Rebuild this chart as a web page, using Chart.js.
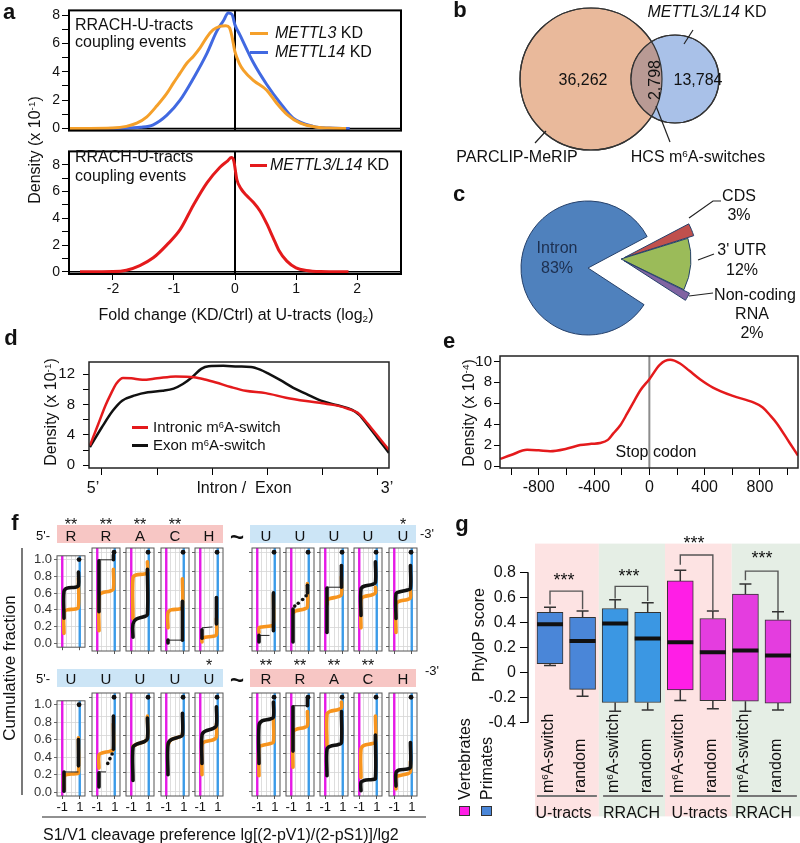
<!DOCTYPE html>
<html>
<head>
<meta charset="utf-8">
<script src="https://cdn.jsdelivr.net/npm/chart.js@4.4.1/dist/chart.umd.min.js"></script>
<style>
html,body{margin:0;padding:0;background:#fff;}
#root{position:relative;width:800px;height:843px;overflow:hidden;font-family:"Liberation Sans",Arial,Helvetica,sans-serif;color:#111;background:#fff;}
#root canvas{position:absolute;}
.t{position:absolute;white-space:nowrap;line-height:1.15;}
.bx{position:absolute;box-sizing:border-box;}
sup{font-size:0.62em;vertical-align:0.5em;line-height:0;}
sub{font-size:0.62em;vertical-align:-0.25em;line-height:0;}
</style>
</head>
<body>
<div id="root"></div>
<script>
// ====================== DATA ======================
// panel a : density of fold change at U-tracts
const aMettl3 = [[-2.72,0],[-2.0,0.04],[-1.78,0.15],[-1.61,0.37],[-1.45,0.8],[-1.28,1.6],[-1.12,2.46],[-1.01,3.2],[-0.9,3.9],[-0.79,4.6],[-0.68,5.1],[-0.57,5.7],[-0.46,6.45],[-0.36,6.95],[-0.25,7.2],[-0.15,7.25],[-0.09,7.1],[-0.05,6.5],[0,5.4],[0.07,4.6],[0.14,4.1],[0.3,3.4],[0.52,2.7],[0.68,1.8],[0.85,1.0],[1.07,0.37],[1.34,0.09],[1.6,0.02],[1.82,0]];
const aMettl14 = [[-2.72,0],[-1.8,0.02],[-1.55,0.08],[-1.34,0.26],[-1.12,0.92],[-0.9,2.0],[-0.68,3.55],[-0.46,5.3],[-0.3,6.85],[-0.19,7.6],[-0.11,8.15],[-0.05,8.05],[0,7.3],[0.08,6.6],[0.3,4.65],[0.52,3.1],[0.74,1.8],[0.96,0.7],[1.28,0.15],[1.55,0.03],[1.88,0]];
const aMettl3L14 = [[-2.54,0],[-2.0,0.02],[-1.78,0.12],[-1.56,0.47],[-1.34,1.05],[-1.12,2.0],[-0.9,3.15],[-0.68,5.0],[-0.46,6.65],[-0.25,7.8],[-0.12,8.3],[-0.06,8.55],[-0.02,8.3],[0.03,6.9],[0.1,6.2],[0.19,5.7],[0.3,5.2],[0.41,4.55],[0.52,3.6],[0.62,2.6],[0.72,1.6],[0.85,0.8],[1.0,0.3],[1.17,0.1],[1.4,0.02],[1.86,0]];
const aTicksX = [-2,-1,0,1,2];
const aTicksY = [0,1,2,3,4,5,6,7,8];

// panel b : Venn counts
const vennCounts = [36262, 2798, 13784];

// panel c : pie
const pieLabels = ['CDS', "3' UTR", 'Non-coding RNA', 'Intron'];
const pieValues = [3, 12, 2, 83];

// panel d : metagene density (x: position along intron/exon)
const dIntronic = [[-0.65,2.6],[-0.2,5.4],[0.2,7.9],[0.45,9.2],[0.8,10.8],[1.15,11.5],[1.6,11.45],[2.2,11.25],[3.0,11.45],[4.0,11.7],[5.0,11.6],[5.6,11.3],[6.2,10.9],[7.0,10.3],[7.8,9.8],[8.9,9.5],[10.0,8.9],[11.1,8.45],[12.0,8.15],[12.8,7.85],[13.4,7.4],[13.9,6.9],[14.4,5.6],[14.9,4.1],[15.6,2.0]];
const dExon = [[-0.65,2.4],[0,5.0],[0.6,7.2],[1.1,8.5],[1.8,9.2],[2.5,9.6],[3.3,9.8],[3.9,10.1],[4.4,10.7],[4.9,11.6],[5.4,12.7],[5.8,13.05],[6.6,13.1],[7.4,13.0],[8.1,12.95],[8.6,12.6],[9.1,12.0],[9.7,11.2],[10.4,10.2],[11.1,9.4],[11.9,8.5],[12.8,7.9],[13.6,7.3],[14.0,6.6],[14.4,5.4],[15.0,3.5],[15.6,1.6]];
const dTicksX = [0,3,6,9,12,15];
const dTicksY = [0,2,4,6,8,10,12];

// panel e : density around stop codon
const eStop = [[-1078,0.68],[-1000,1.05],[-884,1.55],[-800,1.5],[-717,1.42],[-600,1.65],[-500,2.0],[-420,2.12],[-356,2.2],[-300,2.5],[-262,3.1],[-210,3.9],[-161,5.0],[-110,6.2],[-67,7.2],[0,8.3],[77,9.7],[150,10.15],[222,9.8],[290,9.1],[366,8.3],[460,7.5],[604,6.7],[748,6.1],[820,5.6],[870,4.9],[921,4.1],[1015,2.2],[1075,1.0]];
const eTicksX = [-1000,-800,-600,-400,-200,0,200,400,600,800,1000];
const eTicksY = [0,2,4,6,8,10];

// panel f : cumulative fractions (orange / black) per nucleotide
const fMotifTop = ['R','R','A','C','H','U','U','U','U','U'];
const fMotifBot = ['U','U','U','U','U','R','R','A','C','H'];
const fStarsTop = ['**','**','**','**','','','','','','*'];
const fStarsBot = ['','','','','*','**','**','**','**',''];
const fTicksY = [0,0.2,0.4,0.6,0.8,1.0];
const fTicksX = [-1,-0.5,0,0.5,1];
const fOrange = [
 [[-.8,.12],[-.8,.37],[-.45,.40],[.5,.41],[.85,.43],[.85,.78]],
 [[-.8,.17],[-.8,.54],[-.45,.57],[.5,.59],[.85,.61],[.85,.82]],
 [[-.8,.30],[-.8,.73],[-.45,.76],[.5,.77],[.85,.79],[.85,.90]],
 [[-.8,.20],[-.8,.36],[-.45,.39],[.5,.40],[.85,.42],[.85,.72]],
 [[-.8,.05],[-.8,.08],[-.45,.10],[.5,.11],[.85,.13],[.85,.30]],
 [[-.8,.15],[-.8,.20],[-.45,.21],[.5,.22],[.85,.23],[.85,.55]],
 [[-.8,.36],[-.45,.38],[.5,.40],[.85,.42],[.85,.67]],
 [[-.8,.45],[-.8,.49],[-.45,.51],[.5,.53],[.85,.55],[.85,.74]],
 [[-.8,.20],[-.8,.50],[-.45,.53],[.5,.55],[.85,.57],[.85,.63]],
 [[-.8,.15],[-.8,.45],[-.45,.48],[.5,.50],[.85,.52],[.85,.60]],
 [[-.8,.03],[-.8,.18],[-.45,.20],[.5,.21],[.85,.22],[.85,.62]],
 [[-.8,.25],[-.8,.39],[-.45,.41],[.5,.43],[.85,.45],[.85,.72]],
 [[-.8,.48],[-.45,.50],[.5,.53],[.85,.56],[.85,.80]],
 [[-.8,.50],[-.45,.55],[.5,.58],[.85,.60],[.85,.62]],
 [[-.8,.18],[-.8,.50],[-.45,.53],[.5,.55],[.85,.58],[.85,.72]],
 [[-.8,.17],[-.8,.47],[-.45,.49],[.5,.51],[.85,.53],[.85,.78]],
 [[-.8,.26],[-.8,.63],[-.45,.66],[.5,.68],[.85,.70],[.85,.85]],
 [[-.8,.49],[-.8,.82],[-.45,.85],[.5,.87],[.85,.89],[.85,.95]],
 [[-.8,.15],[-.8,.45],[-.45,.49],[.5,.51],[.85,.53],[.85,.80]],
 [[-.8,.03],[-.8,.15],[-.45,.17],[.5,.19],[.85,.21],[.85,.32]]
];
const fBlack = [
 [[[-.8,.30],[-.8,.62],[-.45,.66],[.5,.67],[.85,.69],[.85,.85]]],
 [[[-.8,.37],[-.8,.91]],[[.85,.92],[.85,.97]]],
 [[[-.8,.10],[-.8,.24],[-.45,.29],[.5,.32],[.85,.34],[.85,.82]]],
 [[[-.8,.04],[-.8,.07]],[[.85,.07],[.85,.48]]],
 [[[-.8,.09],[-.8,.18]],[[.85,.24],[.85,.52]]],
 [[[-.8,.05],[-.8,.12]],[[.85,.17],[.85,.57]]],
 [[[-.8,.05],[-.8,.40]],[[.85,.57],[.85,.65]]],
 [[[-.8,.15],[-.8,.62]],[[.85,.63],[.85,.86]]],
 [[[-.8,.33],[-.8,.61],[-.45,.64],[.5,.66],[.85,.68],[.85,.90]]],
 [[[-.8,.30],[-.8,.56],[-.45,.58],[.5,.60],[.85,.62],[.85,.86]]],
 [[[-.8,.01],[-.8,.23]],[[.85,.30],[.85,.60]]],
 [[[-.8,.05],[-.8,.20]],[[.85,.45],[.85,.80]]],
 [[[-.8,.12],[-.8,.47],[-.45,.50],[.5,.53],[.85,.56],[.85,.78]]],
 [[[-.8,.18],[-.8,.50],[-.45,.55],[.5,.58],[.85,.60],[.85,.83]]],
 [[[-.8,.30],[-.8,.60],[-.45,.64],[.5,.67],[.85,.70],[.85,.90]]],
 [[[-.8,.30],[-.8,.70],[-.45,.75],[.5,.77],[.85,.79],[.85,.95]]],
 [[[-.8,.43],[-.8,.90]],[[.85,.91],[.85,1.0]]],
 [[[-.8,.17],[-.8,.45],[-.45,.48],[.5,.50],[.85,.52],[.85,.85]]],
 [[[-.8,.01],[-.8,.10],[-.45,.12],[.5,.13],[.85,.14],[.85,.60]]],
 [[[-.8,.06],[-.8,.20],[-.45,.23],[.5,.24],[.85,.26],[.85,.52]]]
];
const fThin = [
 [],[[[-.8,.92],[.85,.92]]],[],[[[-.8,.07],[.85,.07]]],[[[-.8,.20],[.4,.21]]],
 [[[-.8,.12],[.4,.12]]],[],[[[-.8,.63],[.85,.63]]],[],[],
 [[[-.8,.23],[.85,.23]]],[[[-.8,.21],[0,.21]]],[],[],[],
 [],[[[-.8,.91],[.85,.91]]],[],[],[]
];
const fDots = [
 [],[],[],[],[],
 [],[[-.6,.43],[-.2,.46],[.3,.50],[.7,.54]],[],[],[],
 [],[[.2,.30],[.45,.35],[.7,.40]],[],[],[],
 [],[],[],[],[]
];
const fEnd = [0.92, 1.0];

// panel g : PhyloP boxplots
const gLabels = ['m6A-switch','random','m6A-switch','random','m6A-switch','random','m6A-switch','random'];
const gGroups = ['U-tracts','RRACH','U-tracts','RRACH'];
const gSpecies = ['Primates','Primates','Primates','Primates','Vertebrates','Vertebrates','Vertebrates','Vertebrates'];
const gQ1  = [0.07, -0.135, -0.24, -0.24, -0.14, -0.225, -0.23, -0.245];
const gQ3  = [0.48, 0.44, 0.51, 0.48, 0.73, 0.43, 0.625, 0.42];
const gMed = [0.385, 0.25, 0.39, 0.27, 0.24, 0.16, 0.175, 0.135];
const gHi  = [0.52, 0.49, 0.58, 0.555, 0.815, 0.49, 0.705, 0.485];
const gLo  = [0.055, -0.19, -0.31, -0.30, -0.225, -0.29, -0.31, -0.30];
const gStars = ['***','***','***','***'];
const gTicksY = [-0.4,-0.2,0,0.2,0.4,0.6,0.8];

// ====================== HELPERS ======================
const root = document.getElementById('root');
Chart.defaults.font.family = '"Liberation Sans", Arial, sans-serif';
Chart.defaults.font.size = 14;
Chart.defaults.color = '#111';
Chart.defaults.animation = false;
Chart.defaults.events = [];
Chart.defaults.layout.autoPadding = false;
Chart.defaults.plugins.legend.display = false;
Chart.defaults.plugins.tooltip.enabled = false;

const framePlugin = {
  id: 'frame',
  afterDatasetsDraw(chart, args, o) {
    if (!o || !o.color) return;
    const a = chart.chartArea, ctx = chart.ctx;
    ctx.save(); ctx.strokeStyle = o.color; ctx.lineWidth = o.width || 1;
    ctx.strokeRect(a.left, a.top, a.right - a.left, a.bottom - a.top);
    ctx.restore();
  }
};
const bandPlugin = {
  id: 'bands',
  beforeDatasetsDraw(chart, args, o) {
    if (!o || !o.ranges) return;
    const x = chart.scales.x, a = chart.chartArea, ctx = chart.ctx;
    ctx.save();
    o.ranges.forEach((r, i) => {
      const x0 = x.getPixelForValue(r[0]), x1 = x.getPixelForValue(r[1]);
      ctx.fillStyle = o.colors[i];
      ctx.fillRect(x0, a.top, x1 - x0, a.bottom - a.top);
    });
    ctx.restore();
  }
};
const lensPlugin = {
  id: 'lens',
  afterDatasetsDraw(chart, args, o) {
    if (!o || !o.color) return;
    const A = chart.getDatasetMeta(1).data[0], S = chart.getDatasetMeta(0).data[0];
    const ra = A.options.radius, rs = S.options.radius, ctx = chart.ctx;
    ctx.save();
    ctx.beginPath(); ctx.arc(A.x, A.y, ra, 0, Math.PI * 2); ctx.clip();
    ctx.beginPath(); ctx.arc(S.x, S.y, rs, 0, Math.PI * 2); ctx.fillStyle = o.color; ctx.fill();
    ctx.restore();
    ctx.save(); ctx.strokeStyle = o.line; ctx.lineWidth = 1.2;
    [[A, ra], [S, rs]].forEach(([e, r]) => { ctx.beginPath(); ctx.arc(e.x, e.y, r, 0, Math.PI * 2); ctx.stroke(); });
    ctx.restore();
  }
};
Chart.register(framePlugin, bandPlugin, lensPlugin);

const toXY = arr => arr.map(p => ({ x: p[0], y: p[1] }));
const L = (pts, color, w, extra) => Object.assign({ type: 'line', data: toXY(pts), borderColor: color, backgroundColor: color, borderWidth: w, pointRadius: 0, fill: false, tension: 0, spanGaps: false }, extra || {});
const P = (pts, color, r, extra) => Object.assign({ type: 'scatter', data: toXY(pts), pointRadius: r, pointBackgroundColor: color, pointBorderColor: color, pointBorderWidth: 0, showLine: false }, extra || {});

function lin(min, max, ticks, o) {
  o = o || {};
  return {
    type: 'linear', min: min, max: max, reverse: !!o.reverse, offset: false,
    afterBuildTicks: s => { s.ticks = ticks.map(v => ({ value: v })); },
    ticks: { display: o.labels !== false, autoSkip: false, maxRotation: 0, minRotation: 0, padding: (o.pad === undefined ? 3 : o.pad), font: { size: o.size || 14 }, color: o.color || '#111', callback: o.cb || (v => String(v)) },
    grid: { display: true, drawOnChartArea: !!o.grid, color: o.grid || '#000', lineWidth: o.gridW || 1, drawTicks: true, tickLength: (o.tl === undefined ? 6 : o.tl), tickColor: o.tickColor || '#000', tickWidth: o.tw || 1 },
    border: { display: false }
  };
}

// box = canvas [left, top, width, height]; plot = plot area [left, top, right, bottom] in page px
function mk(box, plot, cfg) {
  const cv = document.createElement('canvas');
  cv.width = box[2]; cv.height = box[3];
  cv.style.left = box[0] + 'px'; cv.style.top = box[1] + 'px';
  cv.style.width = box[2] + 'px'; cv.style.height = box[3] + 'px';
  root.appendChild(cv);
  const o = cfg.options = cfg.options || {};
  o.responsive = false; o.maintainAspectRatio = false; o.animation = false; o.devicePixelRatio = 1; o.events = [];
  const pad = { left: plot[0] - box[0], top: plot[1] - box[1], right: box[0] + box[2] - plot[2], bottom: box[1] + box[3] - plot[3] };
  const sc = o.scales || {};
  if (sc.y && sc.y.display !== false) { const w = pad.left; pad.left = 0; sc.y.afterFit = s => { s.width = w; }; }
  if (sc.x && sc.x.display !== false) { const h = pad.bottom; pad.bottom = 0; sc.x.afterFit = s => { s.height = h; }; }
  o.layout = { padding: pad, autoPadding: false };
  return { chart: new Chart(cv.getContext('2d'), cfg), left: box[0], top: box[1] };
}

function T(x, y, html, o) {
  o = o || {};
  const d = document.createElement('div');
  d.className = 't'; d.innerHTML = html;
  const s = o.size || 16;
  d.style.fontSize = s + 'px';
  if (o.bold) d.style.fontWeight = 'bold';
  if (o.italic) d.style.fontStyle = 'italic';
  if (o.color) d.style.color = o.color;
  if (o.rot === 'start') {
    d.style.left = (x - s * 1.15 / 2) + 'px'; d.style.top = y + 'px';
    d.style.transformOrigin = '0 0'; d.style.transform = 'rotate(-90deg)';
  } else {
    d.style.left = x + 'px'; d.style.top = y + 'px';
    const al = o.align || 'center';
    const tx = al === 'left' ? '0' : (al === 'right' ? '-100%' : '-50%');
    d.style.transform = 'translate(' + tx + ',-50%)' + (o.rot ? ' rotate(-90deg)' : '');
  }
  root.appendChild(d);
}
function B(x, y, w, h, bg, border) {
  const d = document.createElement('div'); d.className = 'bx';
  d.style.left = x + 'px'; d.style.top = y + 'px'; d.style.width = w + 'px'; d.style.height = h + 'px';
  d.style.background = bg; if (border) d.style.border = border;
  root.appendChild(d);
}
const fmt = n => n.toLocaleString('en-US');
const sup6 = s => s.replace('m6A', 'm<sup>6</sup>A');

const ORANGE_A = '#f5a02a', BLUE_A = '#4169e1', RED = '#e41a1c';
const F_ORANGE = '#f7941d', MAG = '#e619e6', BLU = '#3b9be8', TR = 'rgba(0,0,0,0)';
const F_PINK = '#f7c6c4', F_BLUE = '#cce5f6';
const G_COL = { Primates: ['#4a86d8', '#4a86d8', '#3b97e3', '#3b97e3'], Vertebrates: ['#ff1ee6', '#e43ddf', '#e43ddf', '#e43ddf'] };

// ====================== PANEL a ======================
const smooth = { cubicInterpolationMode: 'monotone' };
mk([0, 0, 410, 141], [69, 10, 401, 139], {
  type: 'scatter',
  data: { datasets: [
    L(aMettl3, ORANGE_A, 3, smooth),
    L(aMettl14, BLUE_A, 3, smooth),
    L([[-3, 0], [3, 0]], '#000', 1.5),
    L([[0, -1], [0, 10]], '#000', 2)
  ] },
  options: {
    scales: {
      x: { type: 'linear', min: -2.72, max: 2.72, display: false },
      y: lin(-0.15, 8.33, aTicksY, { cb: v => (v % 2 === 0 ? String(v) : ''), size: 14, tl: 7, pad: 2 })
    },
    plugins: { frame: { color: '#000', width: 2 } }
  }
});
mk([0, 141, 410, 165], [69, 143, 401, 274], {
  type: 'scatter',
  data: { datasets: [
    L(aMettl3L14, RED, 3, smooth),
    L([[-3, 0], [3, 0]], '#000', 1.5),
    L([[0, -1], [0, 10]], '#000', 2)
  ] },
  options: {
    scales: {
      x: lin(-2.72, 2.72, aTicksX, { size: 14, tl: 6, pad: 1 }),
      y: lin(-0.16, 9.0, aTicksY, { cb: v => (v % 2 === 0 ? String(v) : ''), size: 14, tl: 7, pad: 2 })
    },
    plugins: { frame: { color: '#000', width: 2 } }
  }
});

// ====================== PANEL b (Venn) ======================
mk([430, 0, 370, 175], [430, 0, 800, 175], {
  type: 'bubble',
  data: { datasets: [
    { data: [{ x: 245, y: 79, r: 44 }], backgroundColor: '#a9c1e8', borderColor: '#333', borderWidth: 1.2 },
    { data: [{ x: 161, y: 79, r: 71 }], backgroundColor: '#e9b99b', borderColor: '#333', borderWidth: 1.2 }
  ] },
  options: {
    scales: { x: { type: 'linear', min: 0, max: 370, display: false }, y: { type: 'linear', min: 0, max: 175, reverse: true, display: false } },
    plugins: { lens: { color: '#b99a94', line: '#333' } }
  }
});

// ====================== PANEL c (pie, exploded) ======================
function pie(box, rad, colors, borders, offsets) {
  return mk(box, [box[0], box[1], box[0] + box[2], box[1] + box[3]], {
    type: 'pie',
    data: { labels: pieLabels, datasets: [{ data: pieValues, backgroundColor: colors, borderColor: borders, borderWidth: 1, offset: offsets }] },
    options: { radius: rad, rotation: 62 }
  });
}
pie([508, 188, 160, 160], 67, [TR, TR, TR, '#4f81bd'], [TR, TR, TR, '#25406a'], [0, 0, 0, 0]);
pie([541, 179, 160, 160], 70, ['#c0504d', '#9bbb59', '#8064a2', TR], ['#25406a', '#25406a', '#25406a', TR], [14, 0, 14, 0]);

// ====================== PANEL d ======================
mk([30, 345, 365, 140], [89, 355, 389, 469], {
  type: 'scatter',
  data: { datasets: [ L(dIntronic, RED, 2.5, smooth), L(dExon, '#111', 2.5, smooth) ] },
  options: {
    scales: {
      x: lin(-0.7, 15.6, dTicksX, { labels: false, tl: 7 }),
      y: lin(-0.37, 13.6, dTicksY, { cb: v => (v % 4 === 0 ? String(v) : ''), size: 15, tl: 6, pad: 8 })
    },
    plugins: { frame: { color: '#222', width: 1.5 } }
  }
});

// ====================== PANEL e ======================
mk([440, 345, 360, 160], [500, 355, 798, 468], {
  type: 'scatter',
  data: { datasets: [ L(eStop, RED, 2.5, smooth), L([[0, -1], [0, 12]], '#8c8c8c', 2) ] },
  options: {
    scales: {
      x: lin(-1080, 1075, eTicksX, { cb: v => (v % 400 === 0 ? String(v) : ''), size: 16, tl: 7, pad: 3 }),
      y: lin(-0.19, 10.52, eTicksY, { size: 15, tl: 6, pad: 2 })
    },
    plugins: { frame: { color: '#222', width: 1.5 } }
  }
});

// ====================== PANEL f ======================
const fCols = [57, 92, 126, 161, 195, 252, 286, 320, 354, 389];
const fTops = [548, 693];
for (let r = 0; r < 2; r++) {
  for (let c = 0; c < 10; c++) {
    const i = r * 10 + c;
    const l = fCols[c], t = fTops[r];
    const ml = c === 0 ? 50 : 6;
    const box = [l - ml, t - 2, 28 + ml + 6, 103 + 2 + (r === 1 ? 24 : 6)];
    const ds = [];
    fBlack[i].forEach(p => ds.push(L(p, '#111', 3.6, { tension: 0.35, borderCapStyle: 'round' })));
    fThin[i].forEach(p => ds.push(L(p, '#222', 1)));
    if (fDots[i].length) ds.push(P(fDots[i], '#111', 1.8));
    ds.push(P([fEnd], '#111', 2.4));
    ds.push(L(fOrange[i], F_ORANGE, 3.6, { tension: 0.35, borderCapStyle: 'round' }));
    ds.push(L([[-1, -0.05], [-1, 1.05]], MAG, 2.4));
    ds.push(L([[1, -0.05], [1, 1.05]], BLU, 2.4));
    mk(box, [l, t, l + 28, t + 103], {
      type: 'scatter',
      data: { datasets: ds },
      options: {
        scales: {
          x: lin(-1.6, 1.6, fTicksX, { labels: r === 1, size: 13, pad: 1, tl: 3, grid: '#d6d6d6', gridW: 0.8,
               cb: v => (v === -1 ? '-1' : (v === 1 ? '1' : '')),
               tickColor: ctx => (ctx.tick && Math.abs(ctx.tick.value) === 1 ? '#555' : TR) }),
          y: lin(-0.045, 1.045, fTicksY, { labels: c === 0, size: 13, pad: 2, tl: 3, grid: '#d6d6d6', gridW: 0.8, color: '#333',
               cb: v => v.toFixed(1), tickColor: '#666' })
        },
        plugins: { frame: { color: '#555', width: 1 } }
      }
    });
  }
}

// ====================== PANEL g ======================
const gx = gQ1.map((_, i) => i + 1);
const gStemPts = [];
gx.forEach((x, i) => { gStemPts.push([x, gQ3[i]], [x, gHi[i]], [x, null], [x, gLo[i]], [x, gQ1[i]], [x, null]); });
const gColors = gSpecies.map((s, i) => G_COL[s][i % 4]);
const gBr = [[1, 0.542, 0.649, 2, 0.505], [3, 0.59, 0.687, 4, 0.57], [5, 0.86, 0.937, 6, 0.497], [7, 0.735, 0.808, 8, 0.49]];
const gDs = [];
gBr.forEach(q => gDs.push(L([[q[0], q[1]], [q[0], q[2]], [q[3], q[2]], [q[3], q[4]]], '#555', 1.4)));
gDs.push({ type: 'scatter', data: gx.map((x, i) => ({ x: x, y: gHi[i] })).concat(gx.map((x, i) => ({ x: x, y: gLo[i] }))), pointStyle: 'line', pointRadius: 6, pointBorderWidth: 1.5, pointBorderColor: '#333', showLine: false });
gDs.push({ type: 'scatter', data: gx.map((x, i) => ({ x: x, y: gMed[i] })), pointStyle: 'line', pointRadius: 13, pointBorderWidth: 4, pointBorderColor: '#111', showLine: false });
gDs.push({ type: 'bar', data: gx.map((x, i) => ({ x: x, y: [gQ1[i], gQ3[i]] })), backgroundColor: gColors, borderColor: '#333', borderWidth: 1, barThickness: 26, borderSkipped: false });
gDs.push(L(gStemPts, '#333', 1.5));
[[0.60, 2.44], [2.63, 4.47], [4.68, 6.53], [6.74, 8.58]].forEach(u => gDs.push(L([[u[0], -0.987], [u[1], -0.987]], '#777', 2)));
gDs.push(L([[0.3245, -0.4], [0.3245, 0.8]], '#111', 1.5, { clip: 6 }));
const gC = mk([450, 530, 350, 300], [528, 533, 800, 820], {
  type: 'scatter',
  data: { datasets: gDs },
  options: {
    scales: {
      x: { type: 'linear', min: 0.3245, max: 8.6755, display: false, offset: false },
      y: lin(-1.149, 1.028, gTicksY, { size: 16, tl: 8, pad: 4 })
    },
    plugins: { bands: { ranges: [[0.54, 2.5], [2.5, 4.53], [4.53, 6.58], [6.58, 8.68]], colors: ['#fde3e3', '#e5eee5', '#fde3e3', '#e5eee5'] } }
  }
});

// ====================== ANNOTATION LINES (overlay) ======================
const annoLines = [
  [[693, 30], [684, 44]], [[535, 143], [546, 131]], [[670, 142], [656, 106]],
  [[689, 218], [713, 201], [721, 201]], [[698, 260], [714, 254]], [[689, 296], [713, 293]],
  [[22, 548], [22, 795]], [[42, 817], [426, 817]]
];
mk([0, 0, 800, 843], [0, 0, 800, 843], {
  type: 'scatter',
  data: { datasets: annoLines.map(p => L(p, '#222', 1.2, { clip: false })) },
  options: { scales: { x: { type: 'linear', min: 0, max: 800, display: false }, y: { type: 'linear', min: 0, max: 843, reverse: true, display: false } } }
});

// ====================== TEXT ======================
T(9, 12, 'a', { bold: 1, size: 22 }); T(460, 10, 'b', { bold: 1, size: 22 }); T(459, 194, 'c', { bold: 1, size: 22 });
T(11, 338, 'd', { bold: 1, size: 22 }); T(449, 341, 'e', { bold: 1, size: 22 }); T(15, 523, 'f', { bold: 1, size: 22 });
T(462, 524, 'g', { bold: 1, size: 22 });

// a
T(75, 25, 'RRACH-U-tracts', { align: 'left' }); T(75, 42, 'coupling events', { align: 'left' });
B(250, 31.5, 18, 3, ORANGE_A); T(275, 33, '<i>METTL3</i> KD', { align: 'left' });
B(250, 50.5, 18, 3, BLUE_A); T(275, 52, '<i>METTL14</i> KD', { align: 'left' });
T(75, 157, 'RRACH-U-tracts', { align: 'left' }); T(75, 176, 'coupling events', { align: 'left' });
B(250, 163.5, 17, 3, RED); T(270, 165, '<i>METTL3/L14</i> KD', { align: 'left' });
T(35, 150, 'Density (x 10<sup>-1</sup>)', { rot: true });
T(236, 315, 'Fold change (KD/Ctrl) at U-tracts (log<sub>2</sub>)');

// b
T(583, 80, fmt(vennCounts[0])); T(655, 80, fmt(vennCounts[1]), { rot: true }); T(698, 80, fmt(vennCounts[2]));
T(707, 12, '<i>METTL3/L14</i> KD'); T(517, 157, 'PARCLIP-MeRIP'); T(698, 157, 'HCS m<sup>6</sup>A-switches');

// c
T(557, 248, pieLabels[3], { color: '#1d2f4f' }); T(557, 268, pieValues[3] + '%', { color: '#1d2f4f' });
T(739, 196, pieLabels[0]); T(739, 215, pieValues[0] + '%');
T(742, 250, pieLabels[1]); T(742, 270, pieValues[1] + '%');
T(755, 295, pieLabels[2].split(' ')[0]); T(752, 314, pieLabels[2].split(' ')[1]); T(752, 333, pieValues[2] + '%');

// d
T(51, 412, 'Density (x 10<sup>-1</sup>)', { rot: true });
B(132, 426, 16, 2.5, RED); T(153, 427, 'Intronic m<sup>6</sup>A-switch', { align: 'left', size: 15 });
B(132, 444, 16, 2.5, '#111'); T(153, 445, 'Exon m<sup>6</sup>A-switch', { align: 'left', size: 15 });
T(93, 488, '5\u2019'); T(244, 488, 'Intron /&nbsp; Exon'); T(387, 488, '3\u2019');

// e
T(469, 413, 'Density (x 10<sup>-4</sup>)', { rot: true });
T(656, 452, 'Stop codon');

// f headers
function fHeader(bandTop, motif, stars, letterY, starY, dashX, dashY) {
  const pink = m => 'RACH'.indexOf(m) >= 0;
  B(57, bandTop, 166, 18, pink(motif[0]) ? F_PINK : F_BLUE);
  B(250, bandTop, 166, 18, pink(motif[5]) ? F_PINK : F_BLUE);
  motif.forEach((m, k) => T(fCols[k] + 14, letterY, m, { size: 15 }));
  stars.forEach((s, k) => { if (s) T(fCols[k] + 14, starY, s, { size: 16 }); });
  T(43, letterY, "5'-", { size: 13 });
  T(237, letterY + 1, '~', { size: 24, bold: 1 });
  T(dashX, dashY, "-3'", { size: 13, align: 'left' });
}
fHeader(525, fMotifTop, fStarsTop, 536, 525, 420, 534);
fHeader(669, fMotifBot, fStarsBot, 679, 666, 425, 671);
T(10, 668, 'Cumulative fraction', { rot: true, size: 17 });
T(43, 835, 'S1/V1 cleavage preference lg[(2-pV1)/(2-pS1)]/lg2', { align: 'left' });

// g
T(479, 635, 'PhyloP score', { rot: true });
const gxs = gC.chart.scales.x;
gLabels.forEach((s, i) => T(gC.left + gxs.getPixelForValue(gx[i]) - 2, 793, sup6(s), { rot: 'start' }));
[563.5, 631.5, 699.5, 763.5].forEach((x, k) => T(x, 813, gGroups[k]));
[[564, 580], [629, 576], [694, 543], [762, 558]].forEach((p, k) => T(p[0], p[1], gStars[k], { size: 18 }));
B(459, 806, 11, 10, '#ff1ee6', '1px solid #333'); B(481, 806, 11, 10, '#4a86d8', '1px solid #333');
T(465, 800, 'Vertebrates', { rot: 'start' }); T(487, 800, 'Primates', { rot: 'start' });
</script>
</body>
</html>
